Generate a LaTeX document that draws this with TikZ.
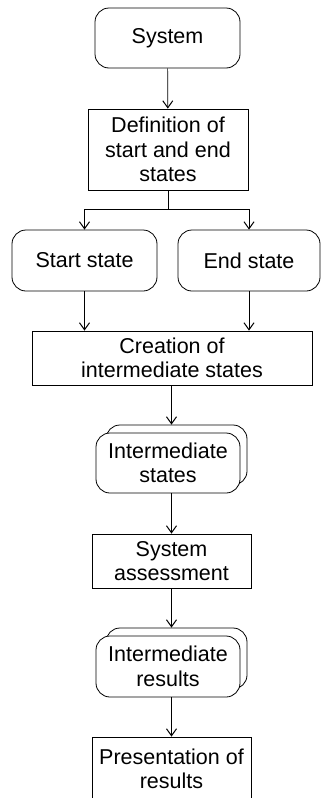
\documentclass[tikz,border=0pt]{standalone}
\usepackage{fontspec}
\setmainfont{Liberation Sans}
\usepackage{tikz}
\usetikzlibrary{
    arrows.meta,
    calc,
    positioning
}
\tikzset{term/.style={draw=black, line width=0.8pt, rounded corners=14pt, align=center, inner sep=2pt, font=\fontsize{21.5}{24.5}\selectfont}}
\tikzset{proc/.style={draw=black, line width=0.8pt, align=center, inner sep=2pt, font=\fontsize{21.5}{24.5}\selectfont}}
\tikzset{stack/.style={term, fill=white, minimum width=144pt, minimum height=60pt}}
\tikzset{flow/.style={line width=0.7pt, -{Straight Barb[length=7pt, width=10pt, line width=1pt]}}}

\begin{document}
\begin{tikzpicture}[x=1pt, y=-1pt]
    \useasboundingbox (0, 0) rectangle (321, 798);

    \node[term, minimum width=145pt, minimum height=60pt] (sys) at (167.5, 38) {System};
    \node[proc, minimum width=160pt, minimum height=81pt] (def) at (168, 149.5) {Definition of\\start and end\\states};

    \node[term, minimum width=145pt, minimum height=61pt] (start) at (84.5, 260.5) {Start state};
    \node[term, minimum width=142pt, minimum height=61pt] (end) at (249, 260.5) {End state};

    \node[proc, minimum width=280pt, minimum height=54pt] (create) at (172, 358) {Creation of\\intermediate states};

    \node[stack, minimum width=141pt] (isback) at (176.5, 455) {};
    \node[stack] (istates) at (168, 463) {Intermediate\\states};

    \node[proc, minimum width=159pt, minimum height=54pt] (assess) at (171.5, 561) {System\\assessment};

    \node[stack, minimum width=141pt, minimum height=61pt] (irback) at (176.5, 658.5) {};
    \node[stack, minimum height=61pt] (iresults) at (168, 666.5) {Intermediate\\results};

    \node[proc, minimum width=159pt, minimum height=64pt] (present) at (171.5, 769) {Presentation of\\results};

    \draw[flow] (sys) -- (def);
    \draw[flow] (def.south) -- ++(0, 19) coordinate (split) -| (start.north);
    \draw[flow] (split) -| (end.north);
    \draw[flow] (start.south) -- (start.south |- create.north);
    \draw[flow] (end.south) -- (end.south |- create.north);
    \draw[flow] (create.south -| assess.north) -- (assess.north |- isback.north);
    \draw[flow] (istates.south -| assess.north) -- (assess.north);
    \draw[flow] (assess.south) -- (assess.south |- irback.north);
    \draw[flow] (iresults.south -| present.north) -- (present.north);
\end{tikzpicture}
\end{document}
